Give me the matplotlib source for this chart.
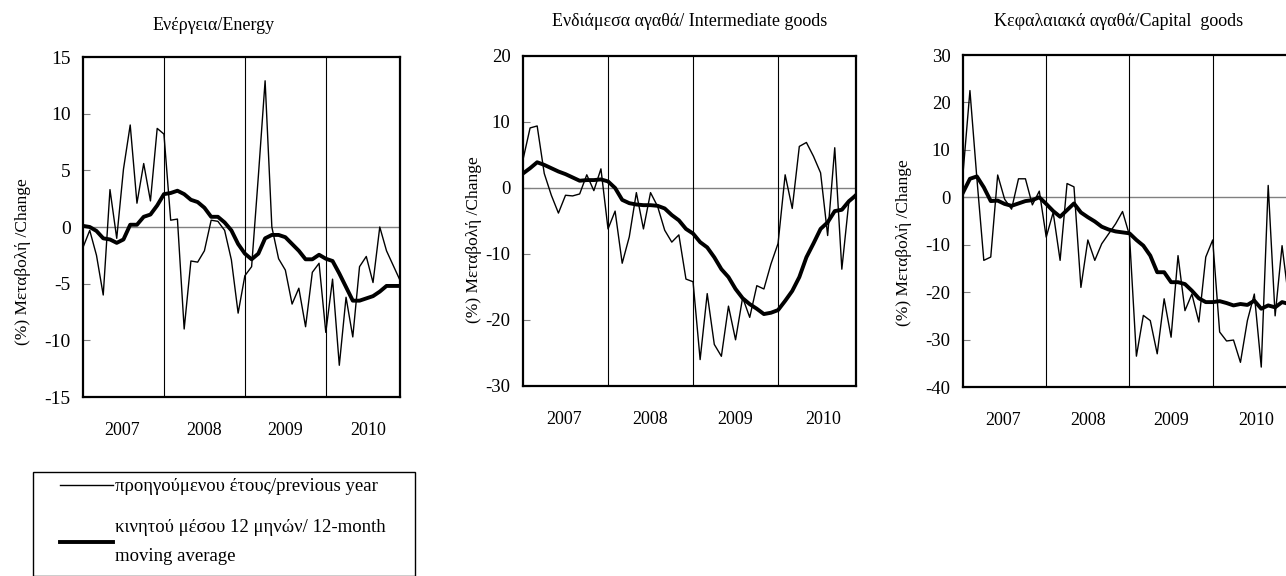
import numpy as np
import matplotlib
matplotlib.use("Agg")
import matplotlib.pyplot as plt
from matplotlib.patches import Rectangle

plt.rcParams['font.family'] = ['Liberation Serif', 'DejaVu Serif']
plt.rcParams['axes.unicode_minus'] = False

# monthly data, Jan 2007 - Dec 2010
years = ['2007', '2008', '2009', '2010']

energy_yoy = [-1.8, -0.3, -2.5, -6.0, 3.3, -1.0, 5.1, 9.0, 2.1, 5.6, 2.3, 8.7,
              8.2, 0.6, 0.7, -9.0, -3.0, -3.1, -2.1, 0.6, 0.5, -0.3, -2.9, -7.6,
              -4.3, -3.5, 4.5, 12.9, 0.0, -2.8, -3.8, -6.8, -5.4, -8.8, -4.0, -3.2,
              -9.3, -4.6, -12.2, -6.2, -9.7, -3.5, -2.6, -4.9, 0.0, -2.1, -3.4, -4.7]
energy_ma = [0.1, 0.0, -0.35, -1.0, -1.1, -1.4, -1.1, 0.2, 0.2, 0.9, 1.1, 1.9,
             2.9, 3.0, 3.2, 2.9, 2.4, 2.2, 1.7, 0.9, 0.9, 0.4, -0.3, -1.5,
             -2.35, -2.85, -2.35, -1.0, -0.7, -0.7, -0.9, -1.5, -2.1, -2.85, -2.85, -2.45,
             -2.8, -3.0, -4.1, -5.3, -6.5, -6.5, -6.3, -6.1, -5.7, -5.2, -5.2, -5.2]

inter_yoy = [4.3, 9.1, 9.4, 2.2, -1.1, -3.8, -1.1, -1.2, -0.9, 2.0, -0.4, 2.9,
             -6.2, -3.5, -11.4, -7.4, -0.7, -6.2, -0.7, -2.8, -6.4, -8.2, -7.1, -13.8,
             -14.2, -26.0, -16.0, -23.7, -25.5, -17.9, -23.0, -16.6, -19.6, -14.8, -15.3, -11.5,
             -8.4, 2.0, -3.1, 6.3, 6.9, 4.8, 2.3, -7.2, 6.1, -12.3, -2.0, -0.8]
inter_ma = [2.2, 3.0, 3.9, 3.5, 3.0, 2.5, 2.1, 1.6, 1.1, 1.2, 1.2, 1.3,
            1.0, 0.0, -1.8, -2.3, -2.5, -2.6, -2.6, -2.7, -3.1, -4.1, -4.9, -6.2,
            -6.9, -8.2, -9.0, -10.5, -12.3, -13.5, -15.3, -16.7, -17.6, -18.3, -19.1, -18.9,
            -18.5, -17.1, -15.6, -13.5, -10.5, -8.4, -6.2, -5.2, -3.5, -3.3, -2.0, -1.1]

capital_yoy = [5.0, 22.5, 4.0, -13.3, -12.6, 4.7, -0.4, -2.5, 3.9, 3.9, -1.6, 1.3,
               -8.4, -3.2, -13.3, 2.9, 2.2, -19.0, -9.0, -13.3, -9.8, -7.7, -5.6, -3.0,
               -8.0, -33.5, -24.9, -26.0, -33.0, -21.4, -29.5, -12.3, -23.9, -20.4, -26.3, -12.6,
               -9.0, -28.4, -30.3, -30.1, -34.8, -26.0, -20.4, -35.8, 2.5, -25.0, -10.2, -22.0]
capital_ma = [1.0, 3.9, 4.4, 2.1, -0.8, -0.7, -1.4, -1.8, -1.3, -0.8, -0.6, 0.0,
              -1.4, -2.9, -4.1, -2.7, -1.3, -3.2, -4.2, -5.1, -6.2, -6.8, -7.2, -7.4,
              -7.6, -9.0, -10.2, -12.3, -15.8, -15.8, -17.9, -17.9, -18.3, -19.7, -21.3, -22.1,
              -22.1, -21.9, -22.3, -22.8, -22.5, -22.7, -21.8, -23.5, -22.8, -23.2, -22.1, -22.5]

titles = ['Ενέργεια/Energy', 'Ενδιάμεσα αγαθά/ Intermediate goods', 'Κεφαλαιακά αγαθά/Capital  goods']
ylabel = '(%) Μεταβολή /Change'
legend_labels = ['προηγούμενου έτους/previous year',
                 'κινητού μέσου 12 μηνών/ 12-month\nmoving average']

W, H = 1286, 576
fig = plt.figure(figsize=(W / 100, H / 100), dpi=100)


def px_axes(x0, y0, x1, y1):
    return fig.add_axes([x0 / W, 1 - y1 / H, (x1 - x0) / W, (y1 - y0) / H])


panels = [
    dict(box=(83, 57, 400, 397), ylim=(-15, 15), step=5, yoy=energy_yoy, ma=energy_ma,
         title=titles[0], tpos=(214, 25), ylab=(23, 262), fs=14),
    dict(box=(523, 56, 856, 386), ylim=(-30, 20), step=10, yoy=inter_yoy, ma=inter_ma,
         title=titles[1], tpos=(690, 22), ylab=(474, 240), fs=13.5),
    dict(box=(963, 55, 1289, 387), ylim=(-40, 30), step=10, yoy=capital_yoy, ma=capital_ma,
         title=titles[2], tpos=(1119, 22), ylab=(904, 243), fs=13.5),
]

handles = []
for p in panels:
    ax = px_axes(*p['box'])
    x = np.arange(len(p['yoy']))
    l1, = ax.plot(x, p['yoy'], color='black', lw=1.0, zorder=3)
    l2, = ax.plot(x, p['ma'], color='black', lw=2.8, zorder=4)
    if not handles:
        handles = [l1, l2]
    ax.axhline(0, color='#808080', lw=1.0, zorder=2)
    for v in (12, 24, 36):
        ax.axvline(v, color='black', lw=0.8, zorder=2)
    ax.set_xlim(0, 47)
    ax.set_ylim(*p['ylim'])
    ax.set_yticks(np.arange(p['ylim'][0], p['ylim'][1] + 1, p['step']))
    ax.tick_params(axis='y', direction='in', length=5, color='#808080',
                   labelsize=p['fs'], pad=9)
    ax.set_xticks([5.8, 18, 30, 42.3])
    ax.set_xticklabels(years)
    ax.tick_params(axis='x', length=0, labelsize=13, pad=18)
    for s in ax.spines.values():
        s.set_linewidth(1.6)
        s.set_color('black')
    fig.text(p['tpos'][0] / W, 1 - p['tpos'][1] / H, p['title'],
             ha='center', va='center', fontsize=13)
    fig.text(p['ylab'][0] / W, 1 - p['ylab'][1] / H, ylabel, rotation=90,
             ha='center', va='center', fontsize=12.5)

# legend frame and entries
fig.patches.append(Rectangle((33 / W, 1 - 576 / H), (415 - 33) / W, (576 - 472) / H,
                             transform=fig.transFigure, fill=False,
                             edgecolor='black', lw=1.0))
leg = fig.legend(handles, legend_labels, loc='upper left',
                 bbox_to_anchor=(60 / W, 1 - 478 / H), frameon=False,
                 fontsize=13.5, handlelength=2.8, handletextpad=0.15,
                 borderpad=0, borderaxespad=0, labelspacing=1.3)
for t in leg.get_texts():
    t.set_linespacing(1.9)

fig.savefig('out.png', dpi=100)
